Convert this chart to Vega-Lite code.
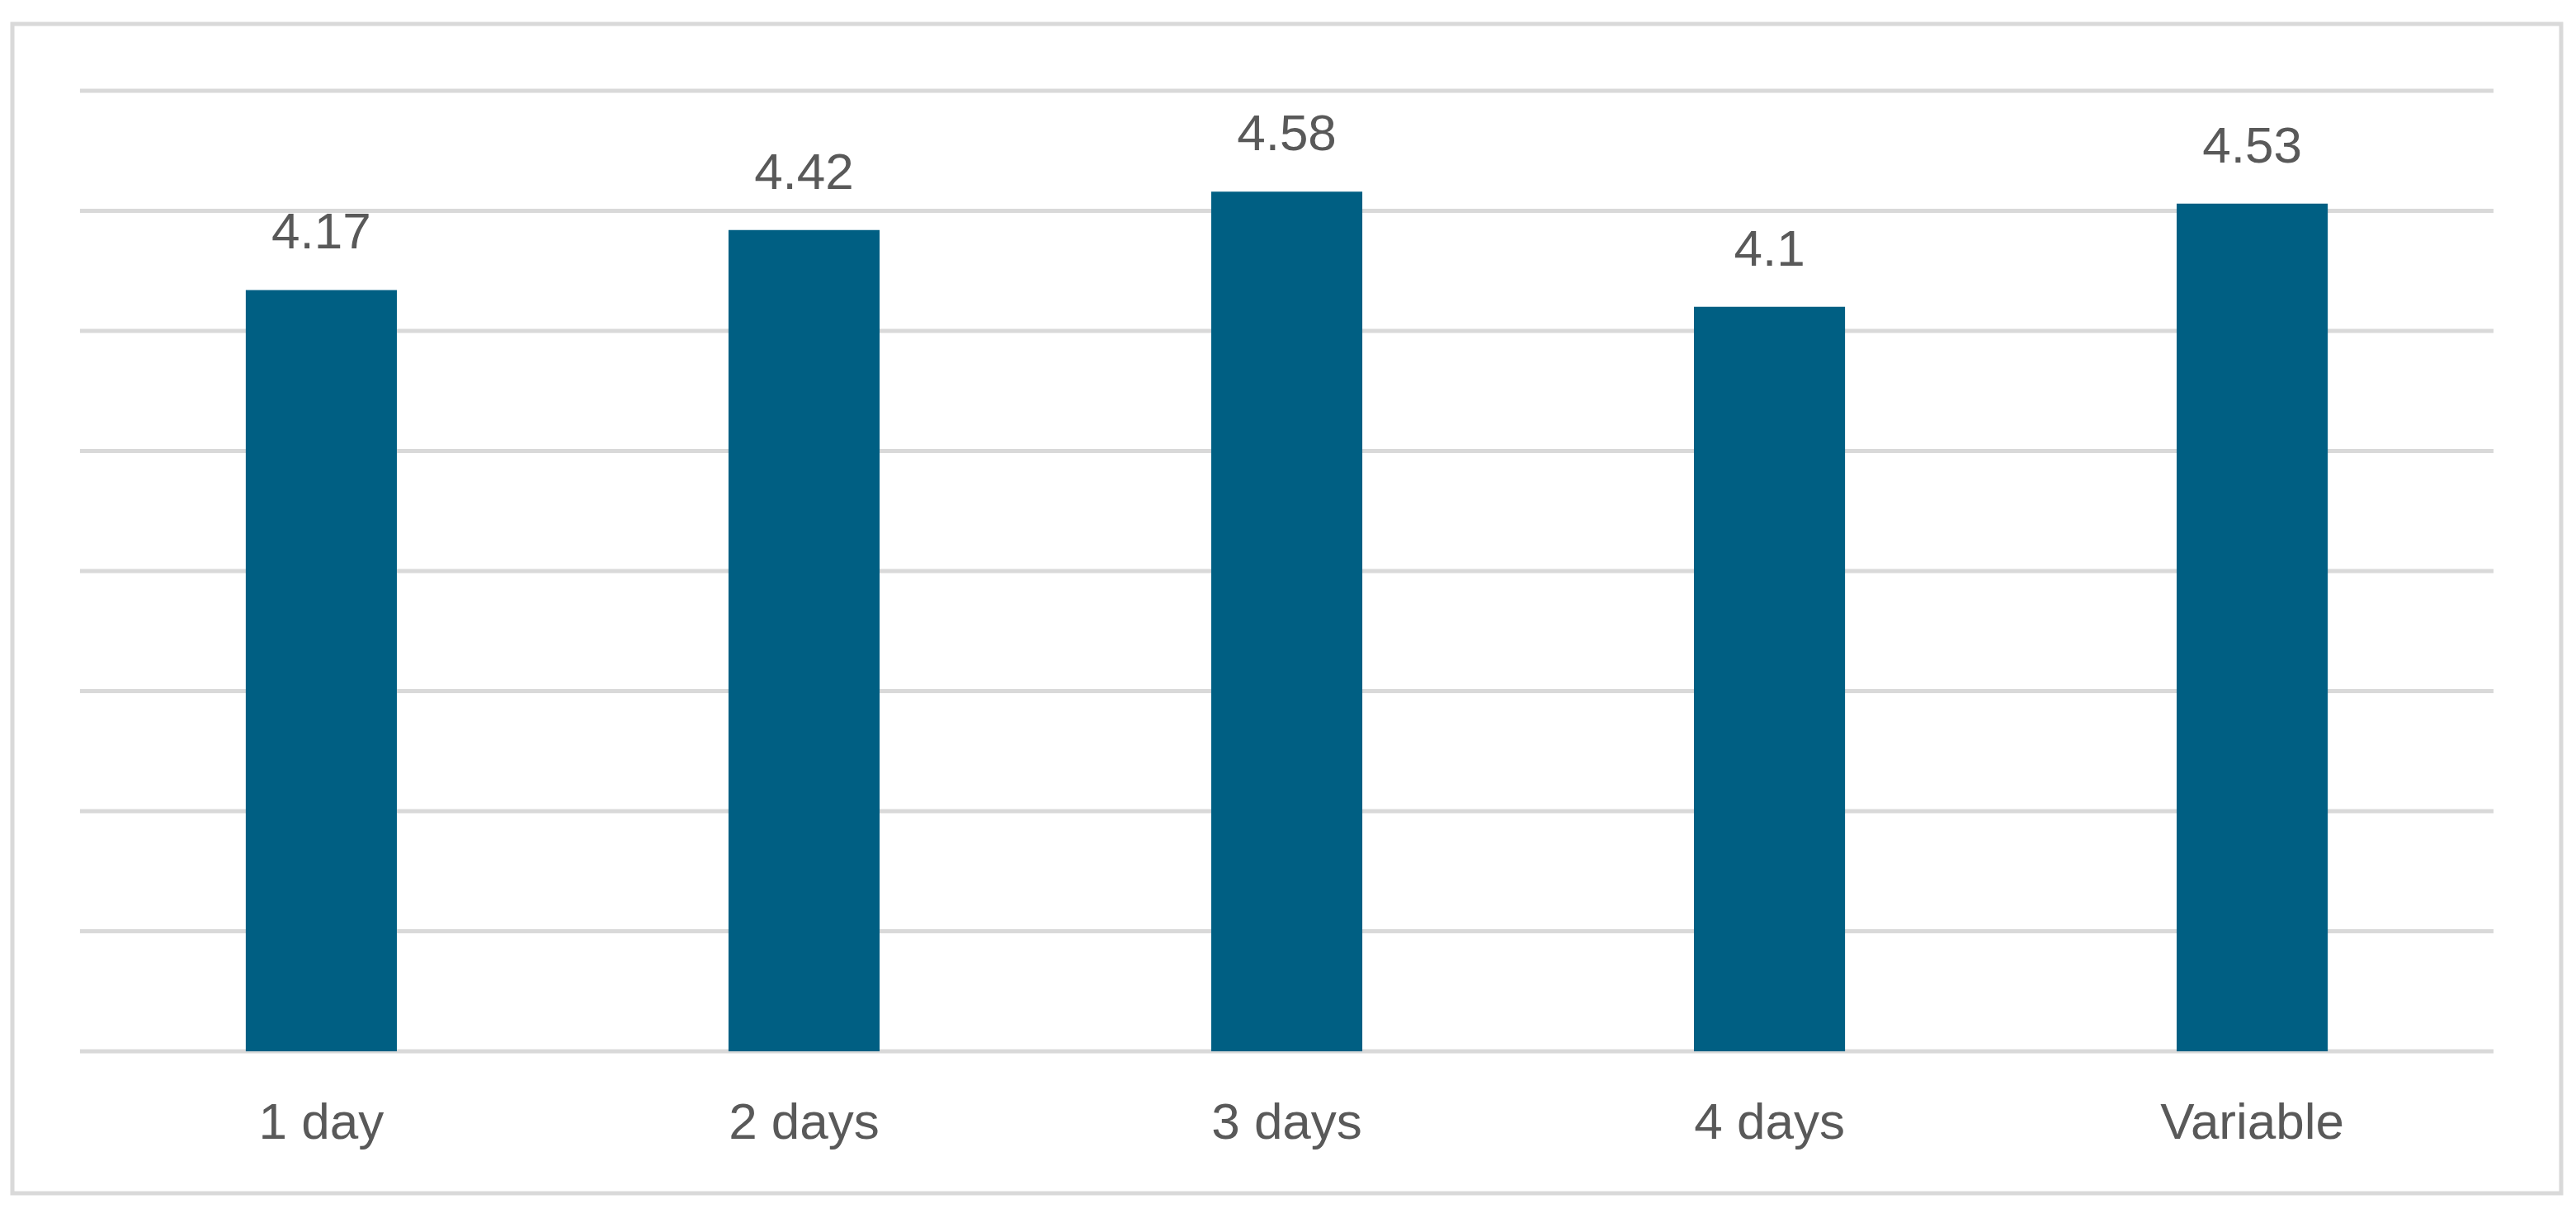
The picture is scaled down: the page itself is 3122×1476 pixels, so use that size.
{
  "$schema": "https://vega.github.io/schema/vega-lite/v6.json",
  "autosize": {"type": "none"},
  "width": 3089,
  "height": 1417,
  "padding": {"left": 15, "top": 29, "right": 18, "bottom": 30},
  "background": "#ffffff",
  "config": {
    "view": {"stroke": "#D9D9D9", "strokeWidth": 5},
    "font": "Liberation Sans",
    "axisX": {
      "domain": false,
      "ticks": false,
      "grid": false,
      "labelPadding": 0,
      "labelBaseline": "middle",
      "labelFontSize": 62,
      "labelColor": "#595959",
      "labelFont": "Liberation Sans",
      "labelAngle": 0,
      "labelLimit": 0,
      "offset": -86
    }
  },
  "datasets": {
    "bars": [
      {"duration": "1 day", "score": 4.17},
      {"duration": "2 days", "score": 4.42},
      {"duration": "3 days", "score": 4.58},
      {"duration": "4 days", "score": 4.1},
      {"duration": "Variable", "score": 4.53}
    ],
    "grid": [
      {"level": 1}, {"level": 1.5}, {"level": 2}, {"level": 2.5}, {"level": 3},
      {"level": 3.5}, {"level": 4}, {"level": 4.5}, {"level": 5}
    ]
  },
  "layer": [
    {
      "data": {"name": "grid"},
      "mark": {"type": "rule", "color": "#D9D9D9", "strokeWidth": 5},
      "encoding": {
        "y": {"field": "level", "type": "quantitative", "axis": null,
              "scale": {"domain": [0.409, 5.278], "nice": false, "zero": false}},
        "x": {"datum": "1 day", "type": "nominal", "bandPosition": 0, "title": null,
              "scale": {"domain": ["1 day", "2 days", "3 days", "4 days", "Variable"], "paddingInner": 0, "paddingOuter": 0.14}},
        "x2": {"datum": "Variable", "bandPosition": 1}
      }
    },
    {
      "data": {"name": "bars"},
      "mark": {"type": "bar", "color": "#005F83", "width": {"band": 0.313}},
      "encoding": {
        "x": {"field": "duration", "type": "nominal", "title": null,
              "scale": {"domain": ["1 day", "2 days", "3 days", "4 days", "Variable"], "paddingInner": 0, "paddingOuter": 0.14}},
        "y": {"field": "score", "type": "quantitative", "axis": null,
              "scale": {"domain": [0.409, 5.278], "nice": false, "zero": false}},
        "y2": {"datum": 1}
      }
    },
    {
      "data": {"name": "bars"},
      "mark": {"type": "text", "baseline": "alphabetic", "dy": -50, "fontSize": 62, "color": "#595959", "font": "Liberation Sans"},
      "encoding": {
        "x": {"field": "duration", "type": "nominal", "title": null,
              "scale": {"domain": ["1 day", "2 days", "3 days", "4 days", "Variable"], "paddingInner": 0, "paddingOuter": 0.14}},
        "y": {"field": "score", "type": "quantitative", "axis": null,
              "scale": {"domain": [0.409, 5.278], "nice": false, "zero": false}},
        "text": {"field": "score", "type": "nominal"}
      }
    }
  ]
}
